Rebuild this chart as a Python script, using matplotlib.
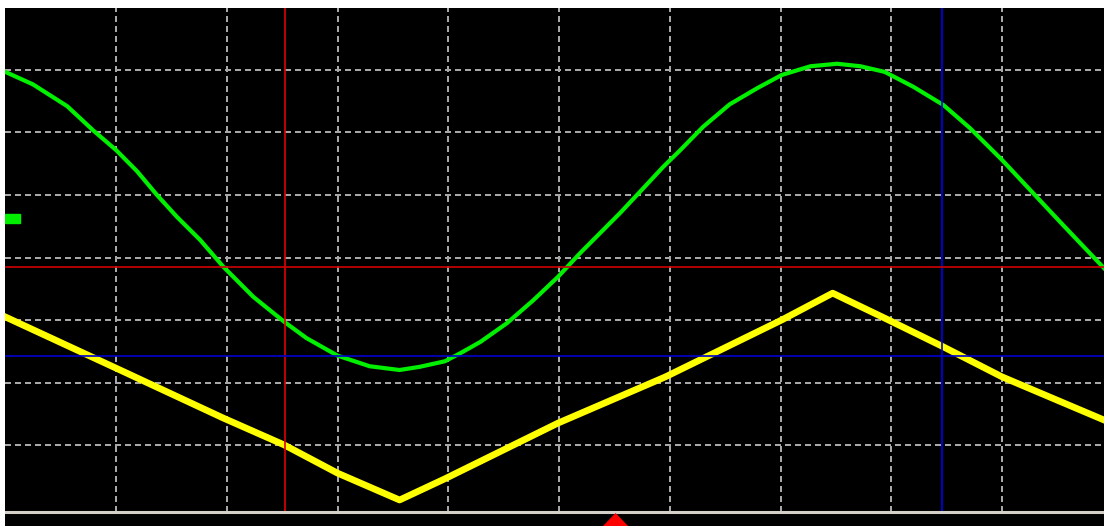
import numpy as np
import matplotlib.pyplot as plt
from matplotlib.patches import Rectangle

# time and level in screen divisions
ch1_t = [0.0, 0.25, 0.56, 0.79, 1.0, 1.19, 1.37, 1.55, 1.76, 1.97, 2.24, 2.52,
         2.72, 3.0, 3.29, 3.56, 3.74, 3.97, 4.11, 4.29, 4.53, 4.77, 4.99, 5.19,
         5.37, 5.55, 5.73, 5.94, 6.09, 6.30, 6.54, 6.79, 7.01, 7.27, 7.51, 7.72,
         7.94, 8.20, 8.47, 8.71, 9.0, 9.28, 9.55, 9.92]
ch1_v = [6.97, 6.77, 6.42, 6.04, 5.72, 5.38, 5.00, 4.65, 4.28, 3.85, 3.37, 2.97,
         2.71, 2.43, 2.26, 2.20, 2.25, 2.34, 2.47, 2.65, 2.95, 3.32, 3.69, 4.07,
         4.39, 4.71, 5.05, 5.45, 5.71, 6.09, 6.45, 6.71, 6.92, 7.06, 7.10, 7.06,
         6.97, 6.73, 6.44, 6.07, 5.56, 5.03, 4.52, 3.83]

ch2_t = [0.0, 1.0, 1.97, 2.52, 3.0, 3.56, 3.97, 4.99, 5.96, 7.01, 7.47, 7.94,
         8.47, 9.0, 9.92]
ch2_v = [3.05, 2.23, 1.43, 1.0, 0.55, 0.12, 0.46, 1.35, 2.09, 3.0, 3.43, 3.03,
         2.57, 2.09, 1.40]

ch1_offset = 4.62      # ground marker of channel 1
cursor_t = [2.53, 8.46]   # red, blue time cursors
cursor_v = [3.85, 2.43]   # red, blue level cursors
trigger_t = 5.51

x_max = 9.92
y_min, y_max = -0.296, 8.0
y_bar = -0.064   # grey bar under the graticule

fig = plt.figure(figsize=(11.04, 5.26), dpi=100, facecolor='white')
ax = fig.add_axes([5.25 / 1104, 0, 1 - 5.25 / 1104, 1 - 7.5 / 526])
ax.set_facecolor('black')
ax.set_xlim(0, x_max)
ax.set_ylim(y_min, y_max)
ax.set_xticks([])
ax.set_yticks([])
for sp in ax.spines.values():
    sp.set_visible(False)

# graticule
grid_kw = dict(color='#A8A8A8', lw=1.44, ls=(0, (3, 2)), zorder=1)
ax.vlines(range(1, 10), y_bar, y_max, **grid_kw)
ax.hlines(range(1, 8), 0, x_max, **grid_kw)

# traces
ax.plot(ch2_t, ch2_v, color='#FFFF00', lw=4.8, zorder=3, solid_joinstyle='round')
ax.plot(ch1_t, ch1_v, color='#00F000', lw=3.0, zorder=3, solid_joinstyle='round')

# cursors
ax.vlines(cursor_t[0], y_bar, y_max, color='#E00000', lw=1.2, zorder=4)
ax.vlines(cursor_t[1], y_bar, y_max, color='#0000F0', lw=1.2, zorder=4)
ax.axhline(cursor_v[0], color='#D00000', lw=1.2, zorder=4)
ax.axhline(cursor_v[1], color='#0000D0', lw=1.2, zorder=4)

# ground marker and bottom bar
ax.add_patch(Rectangle((0, ch1_offset - 0.072), 0.13, 0.144,
                       color='#00F000', zorder=5))
ax.axhline(y_bar, color='#D4D0C8', lw=2.2, zorder=5)
ax.fill([trigger_t - 0.113, trigger_t, trigger_t + 0.113],
        [y_min, -0.088, y_min], color='#FF0000', lw=0, zorder=6)

fig.savefig('out.png', dpi=100, facecolor=fig.get_facecolor())
